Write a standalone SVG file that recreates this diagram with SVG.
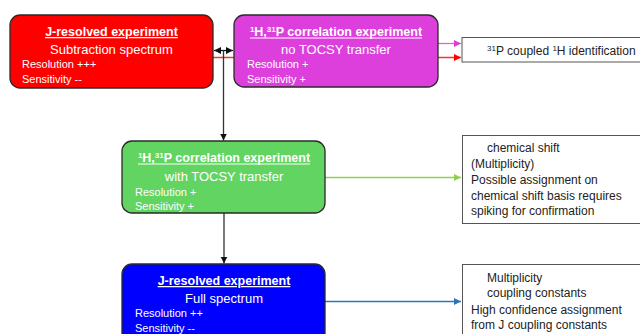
<svg xmlns="http://www.w3.org/2000/svg" width="640" height="334" viewBox="0 0 640 334">
<style>
text{font-family:"Liberation Sans",Arial,sans-serif;}
.box{stroke:#2a2a2a;stroke-width:1.3;}
.title{font-size:12.5px;font-weight:bold;fill:#fff;text-anchor:middle;}
.ul{text-decoration:underline;}
.uline{stroke:#fff;stroke-width:1;}
.sub{font-size:13px;fill:#fff;text-anchor:middle;}
.small{font-size:11px;fill:#fff;}
.tbox{fill:#fff;stroke:#555;stroke-width:1;}
.ttext{font-size:12px;fill:#222;}
.sup{font-size:8px;}
</style>
<defs>
<marker id="aBlack" markerWidth="8" markerHeight="8" refX="7" refY="4" orient="auto" markerUnits="userSpaceOnUse"><path d="M0,0.5 L7,4 L0,7.5 Z" fill="#111"/></marker>
<marker id="aBlackS" markerWidth="8" markerHeight="8" refX="7" refY="4" orient="auto-start-reverse" markerUnits="userSpaceOnUse"><path d="M0,0.5 L7,4 L0,7.5 Z" fill="#111"/></marker>
<marker id="aRed" markerWidth="8" markerHeight="8" refX="7" refY="4" orient="auto" markerUnits="userSpaceOnUse"><path d="M0,0.5 L7,4 L0,7.5 Z" fill="#ff0000"/></marker>
<marker id="aMag" markerWidth="8" markerHeight="8" refX="7" refY="4" orient="auto" markerUnits="userSpaceOnUse"><path d="M0,0.5 L7,4 L0,7.5 Z" fill="#d63fd6"/></marker>
<marker id="aGreen" markerWidth="8" markerHeight="8" refX="7" refY="4" orient="auto" markerUnits="userSpaceOnUse"><path d="M0,0.5 L7,4 L0,7.5 Z" fill="#8fd14f"/></marker>
<marker id="aBlue" markerWidth="8" markerHeight="8" refX="7" refY="4" orient="auto" markerUnits="userSpaceOnUse"><path d="M0,0.5 L7,4 L0,7.5 Z" fill="#2e75b6"/></marker>
</defs>
<rect width="640" height="334" fill="#fff"/>
<g id="connectors">
<line x1="213" y1="57.5" x2="461" y2="57.5" stroke="#ff3030" stroke-width="1.3" marker-end="url(#aRed)"/>
<line x1="438" y1="43.5" x2="461" y2="43.5" stroke="#e060e0" stroke-width="1.3" marker-end="url(#aMag)"/>
<line x1="214" y1="50.5" x2="233" y2="50.5" stroke="#111" stroke-width="1.2" marker-start="url(#aBlackS)" marker-end="url(#aBlack)"/>
<line x1="223.5" y1="50.5" x2="223.5" y2="140.5" stroke="#333" stroke-width="1.3" marker-end="url(#aBlack)"/>
<line x1="224" y1="213" x2="224" y2="263.5" stroke="#333" stroke-width="1.3" marker-end="url(#aBlack)"/>
<line x1="325" y1="177.5" x2="461" y2="177.5" stroke="#8fd14f" stroke-width="1.3" marker-end="url(#aGreen)"/>
<line x1="325" y1="301.5" x2="461" y2="301.5" stroke="#2e75b6" stroke-width="1.3" marker-end="url(#aBlue)"/>
</g>
<g id="node-jres-sub">
<rect class="box" x="10" y="15" width="203" height="73" rx="10" fill="#ff0000"/>
<text class="title ul" x="111.5" y="36">J-resolved experiment</text>
<text class="sub" x="111.5" y="54">Subtraction spectrum</text>
<text class="small" x="22" y="68">Resolution +++</text>
<text class="small" x="22" y="83">Sensitivity --</text>
</g>
<g id="node-corr-notocsy">
<rect class="box" x="234" y="15" width="204" height="72" rx="10" fill="#dc3fdc"/>
<text class="title" x="336" y="36"><tspan class="sup" dy="-4">1</tspan><tspan dy="4">H,</tspan><tspan class="sup" dy="-4">31</tspan><tspan dy="4">P correlation experiment</tspan></text>
<line class="uline" x1="250" y1="38" x2="422" y2="38"/>
<text class="sub" x="336" y="54">no TOCSY transfer</text>
<text class="small" x="247" y="68">Resolution +</text>
<text class="small" x="247" y="83">Sensitivity +</text>
</g>
<g id="node-corr-tocsy">
<rect class="box" x="122" y="141" width="203" height="72" rx="10" fill="#62d462"/>
<text class="title" x="224" y="162"><tspan class="sup" dy="-4">1</tspan><tspan dy="4">H,</tspan><tspan class="sup" dy="-4">31</tspan><tspan dy="4">P correlation experiment</tspan></text>
<line class="uline" x1="138" y1="164" x2="310" y2="164"/>
<text class="sub" x="224" y="181">with TOCSY transfer</text>
<text class="small" x="135" y="196">Resolution +</text>
<text class="small" x="135" y="210">Sensitivity +</text>
</g>
<g id="node-jres-full">
<rect class="box" x="122" y="264" width="203" height="80" rx="10" fill="#0000ff"/>
<text class="title ul" x="224" y="285">J-resolved experiment</text>
<text class="sub" x="224" y="303">Full spectrum</text>
<text class="small" x="135" y="317">Resolution ++</text>
<text class="small" x="135" y="332">Sensitivity --</text>
</g>
<g id="result-1">
<rect class="tbox" x="462" y="37.5" width="190" height="24.5"/>
<text class="ttext" x="487" y="55"><tspan class="sup" dy="-4">31</tspan><tspan dy="4">P coupled </tspan><tspan class="sup" dy="-4">1</tspan><tspan dy="4">H identification</tspan></text>
</g>
<g id="result-2">
<rect class="tbox" x="462.5" y="135.5" width="190" height="88"/>
<text class="ttext" x="487" y="152">chemical shift</text>
<text class="ttext" x="471" y="168">(Multiplicity)</text>
<text class="ttext" x="471" y="184">Possible assignment on</text>
<text class="ttext" x="471" y="200">chemical shift basis requires</text>
<text class="ttext" x="471" y="215">spiking for confirmation</text>
</g>
<g id="result-3">
<rect class="tbox" x="462.5" y="264.5" width="190" height="80"/>
<text class="ttext" x="487" y="282">Multiplicity</text>
<text class="ttext" x="487" y="297">coupling constants</text>
<text class="ttext" x="471" y="314">High confidence assignment</text>
<text class="ttext" x="471" y="329">from J coupling constants</text>
</g>
</svg>
